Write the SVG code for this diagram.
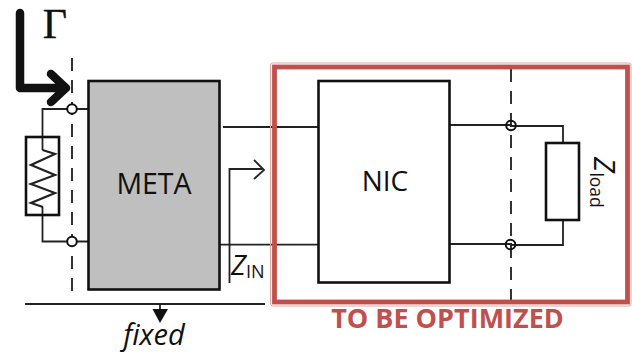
<svg xmlns="http://www.w3.org/2000/svg" width="632" height="354" viewBox="0 0 632 354">
<style>
.w{fill:none;stroke:#222;stroke-width:1.8}
.b{fill:#fff;stroke:#111;stroke-width:2.6}
.d{fill:none;stroke:#333;stroke-width:2;stroke-dasharray:13 9}
.t{font-family:"Open Sans","Noto Sans",sans-serif;fill:#111}
.c{fill:#fff;stroke:#111;stroke-width:2}
</style>
<g id="connectors">
<path class="d" d="M72 58V296"/>
<path class="d" d="M511 69V304"/>
<path class="w" d="M88 109H42.500V150M42.500 207V241.500H88"/>
<path class="w" d="M223 127H318M220 244.700H318"/>
<path class="w" d="M450 125H511V126H563V143M450 244H511V245H563V220"/>
<path class="w" d="M229.500 283V169H262M254 160L264 170L254 179"/>
<path class="w" d="M25 304H265"/>
<path class="w" d="M160 304V312"/>
<path d="M152.500 309H168L160 323Z" fill="#111"/>
<path d="M20 13V88H65M51 74L66 88L51 102" fill="none" stroke="#111" stroke-width="8.500" stroke-linecap="round" stroke-linejoin="round"/>
</g>
<g id="optimize-frame">
<rect x="270.500" y="63" width="360.500" height="243" rx="2" fill="none" stroke="#dba9a6" stroke-width="1"/>
<rect x="274.500" y="67" width="353" height="235" fill="none" stroke="#c0504d" stroke-width="4.800"/>
<text x="447.500" y="328" text-anchor="middle" class="t" style="fill:#c0504d;font-weight:700;font-size:27px">TO BE OPTIMIZED</text>
</g>
<g id="gamma"><text x="55" y="38" text-anchor="middle" style="font-family:'Liberation Serif',serif;font-size:42px;fill:#111;stroke:#111;stroke-width:.4">Γ</text></g>
<g id="source">
<rect x="26" y="137" width="33" height="78" class="b" style="fill:none"/>
<path class="w" style="stroke-width:2.200" d="M42.500 150L55 154L31 165L55 175L31 184L55 193L31 203L43 207"/>
</g>
<g id="port-circles">
<circle cx="72" cy="109" r="4.800" class="c"/>
<circle cx="72" cy="241.500" r="4.800" class="c"/>
<circle cx="511" cy="125.500" r="4.800" fill="none" stroke="#111" stroke-width="2"/>
<circle cx="510.500" cy="244.500" r="4.800" fill="none" stroke="#111" stroke-width="2"/>
</g>
<g id="meta">
<rect x="88.500" y="81" width="131" height="208.500" class="b" style="fill:#bfbfbf"/>
<text x="154" y="194" text-anchor="middle" class="t" style="font-size:28.500px">META</text>
</g>
<g id="nic">
<rect x="318.500" y="81" width="131" height="201.500" class="b"/>
<text x="385" y="191" text-anchor="middle" class="t" style="font-size:28px">NIC</text>
</g>
<g id="zload">
<rect x="546" y="143" width="33" height="77" class="b"/>
<text transform="translate(594 157) rotate(90)" class="t" style="font-size:29px;font-style:italic">Z<tspan dy="4" style="font-size:17.500px;font-style:normal">load</tspan></text>
</g>
<g id="zin"><text x="231" y="275" class="t" style="font-size:28px;font-style:italic">Z<tspan dy="3" style="font-size:18px;font-style:normal">IN</tspan></text></g>
<g id="fixed"><text x="154" y="345" text-anchor="middle" class="t" style="font-size:29px;font-style:italic">fixed</text></g>
</svg>
